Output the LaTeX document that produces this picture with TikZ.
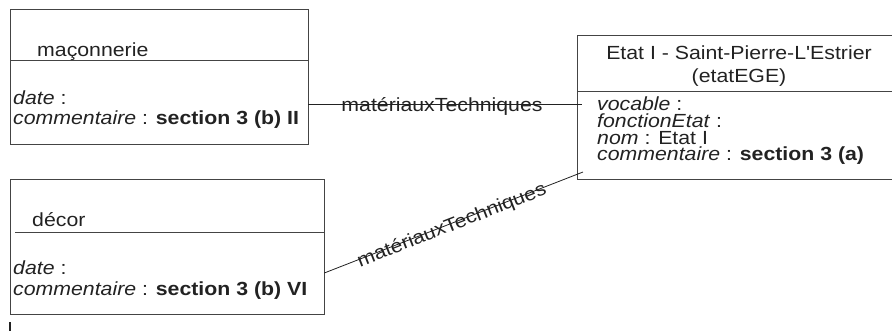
\documentclass[tikz,border=0pt]{standalone}
\usepackage{fontspec}
\setmainfont{Liberation Sans}[FakeStretch=1.12,Ligatures=TeXOff]
\usetikzlibrary{calc}
\definecolor{ink}{HTML}{222222}
\definecolor{edge}{HTML}{444444}
\begin{document}
\begin{tikzpicture}[x=1pt,y=-1pt,
  every node/.style={text=ink,font=\fontsize{19}{21}\selectfont},
  umlbox/.style={draw=edge,line width=0.9pt,inner sep=0pt,outer sep=0pt,anchor=north west},
  sepline/.style={draw=edge,line width=0.9pt},
  txt/.style={anchor=base west,inner sep=0pt},
  ctxt/.style={anchor=base,inner sep=0pt},
  assoc/.style={draw=ink,line width=0.8pt}]
\useasboundingbox (0,0) rectangle (892,331);
% maconnerie
\node[umlbox,minimum width=298pt,minimum height=135pt] (mac) at (10,9) {};
\draw[sepline] (10,60.3) -- (308,60.3);
\node[txt] (macname) at (37,56.7) {maçonnerie};
\node[txt] (macdate) at (13,104.5) {\textit{date} :};
\node[txt] (maccom) at (13,125) {\textit{commentaire} : \textbf{section 3 (b) II}};
% decor
\node[umlbox,minimum width=313.6pt,minimum height=135pt] (dec) at (10.7,179.3) {};
\draw[sepline] (15,232.7) -- (324.3,232.7);
\node[txt] (decname) at (32,226.7) {décor};
\node[txt] (decdate) at (13,275) {\textit{date} :};
\node[txt] (deccom) at (13,295) {\textit{commentaire} : \textbf{section 3 (b) VI}};
% etat
\node[umlbox,minimum width=324pt,minimum height=144pt] (etat) at (577,35) {};
\draw[sepline] (577,91) -- (901,91);
\node[ctxt] (etatt1) at (739,59.3) {Etat I - Saint-Pierre-L'Estrier};
\node[ctxt] (etatt2) at (739,83) {(etatEGE)};
\node[txt] (voc) at (597,111) {\textit{vocable} :};
\node[txt] (fonc) at (597,128) {\textit{fonctionEtat} :};
\node[txt] (nom) at (597,144.5) {\textit{nom} : Etat I};
\node[txt] (etcom) at (597,161) {\textit{commentaire} : \textbf{section 3 (a)}};
% connectors
\coordinate (e1) at (582,104);
\coordinate (e2) at (583,172);
\coordinate (s2) at ([yshift=-26.2pt]dec.east);
\draw[assoc] (mac.east |- e1) -- (e1);
\node[ctxt] (lab1) at (442,111.5) {matériauxTechniques};
\draw[assoc] (s2) -- (e2)
  node[ctxt,pos=0.49,sloped,yshift=-7.5pt] (lab2) {matériauxTechniques};
% stray mark
\draw[ink,line width=1.6pt] (10,322) -- (10,331);
\end{tikzpicture}
\end{document}
